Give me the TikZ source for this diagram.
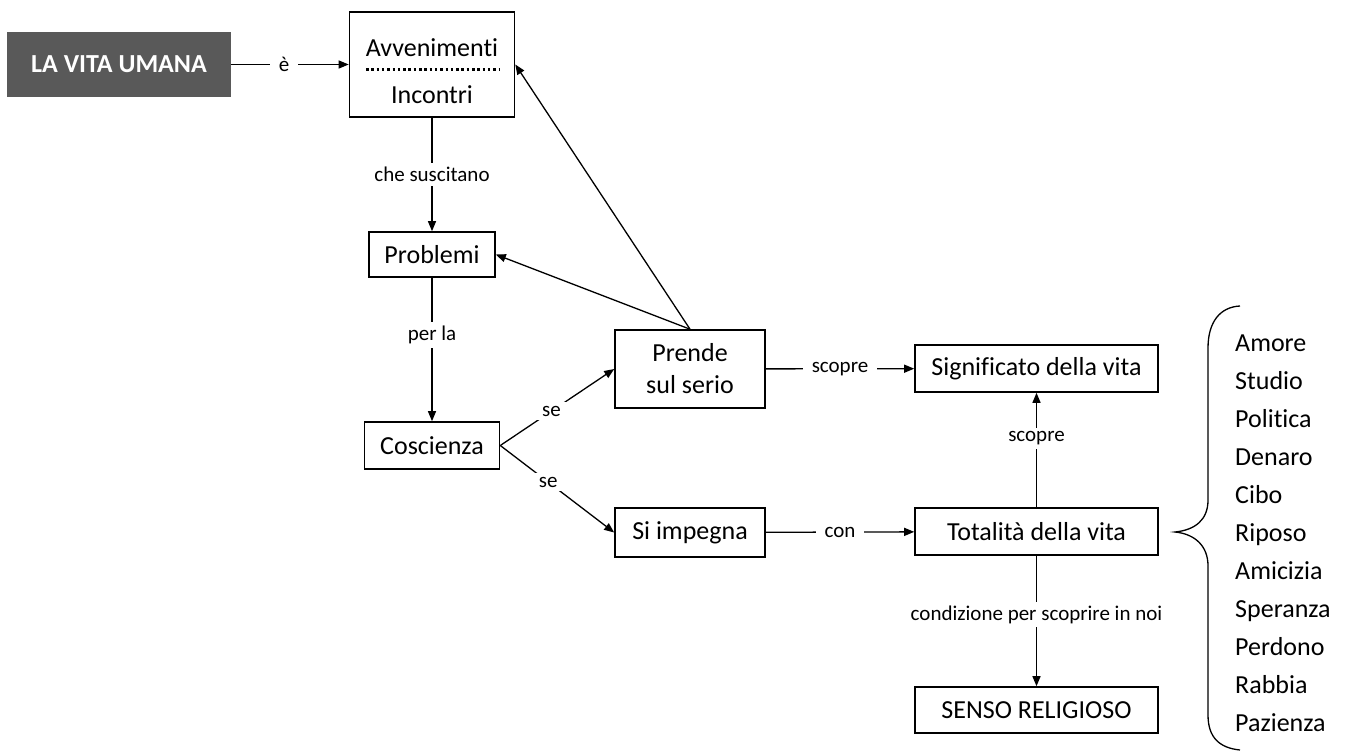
\documentclass[tikz,border=0pt]{standalone}
\usepackage{fontspec}
\setmainfont[Ligatures=NoCommon]{Carlito}
\usetikzlibrary{arrows.meta}
\definecolor{vitagray}{RGB}{89,89,89}

\begin{document}
\begin{tikzpicture}[x=1pt,y=-1pt]
            \tikzstyle{every node}+=[inner sep=0pt]
            \tikzstyle{box}=[draw, line width=1.6pt, align=center, font=\fontsize{26}{32}\selectfont]
            \tikzstyle{lbl}=[fill=white, inner xsep=9pt, inner ysep=4pt, font=\fontsize{21}{25}\selectfont]
            \tikzstyle{link}=[line width=1.3pt, -{Triangle[length=10pt,width=8pt]}]
            \tikzstyle{item}=[anchor=base west, font=\fontsize{26}{32}\selectfont]
            \useasboundingbox (0,0) rectangle (1348,751);
            % concetti
            \node [fill=vitagray, text=white, minimum width=224, minimum height=65, font=\fontsize{26}{32}\selectfont\bfseries] (vita) at (119,64.5) {LA VITA UMANA};
            \node [box, minimum width=165, minimum height=105] (avv) at (432,64.5) {};
            \node [font=\fontsize{26}{32}\selectfont] (avv1) at (432,48) {Avvenimenti};
            \node [font=\fontsize{26}{32}\selectfont] (avv2) at (432,95) {Incontri};
            \draw [line width=3pt, dash pattern=on 2.5pt off 2.8pt] (366,70) -- (500,70);
            \node [box, minimum width=126, minimum height=45] (prob) at (432,254.5) {Problemi};
            \node [box, minimum width=135, minimum height=47] (cosc) at (432,445.5) {Coscienza};
            \node [box, minimum width=150, minimum height=78] (prende) at (690,369) {Prende\\sul serio};
            \node [box, minimum width=150, minimum height=49] (imp) at (690,532.5) {Si impegna};
            \node [box, minimum width=243, minimum height=47] (sig) at (1036.5,368.5) {Significato della vita};
            \node [box, minimum width=243, minimum height=47] (tot) at (1036.5,531.5) {Totalità della vita};
            \node [box, minimum width=243, minimum height=46] (senso) at (1036.5,710) {SENSO RELIGIOSO};
            % collegamenti
            \draw [link] (vita) -- node [lbl, pos=.45] {è} (avv);
            \draw [link] (avv) -- node [lbl] {che suscitano} (prob);
            \draw [link] (prob) -- node [lbl, pos=.4] {per la} (cosc);
            \draw [link] (cosc.east) -- node [lbl, pos=.45] {se} (prende.west);
            \draw [link] (cosc.east) -- node [lbl, pos=.42] {se} (imp.west);
            \draw [link] (prende.north) -- (avv.east);
            \draw [link] (prende.north) -- (prob.east);
            \draw [link] (prende) -- node [lbl] {scopre} (sig);
            \draw [link] (imp) -- node [lbl] {con} (tot);
            \draw [link] (tot) -- node [lbl, pos=.6] {scopre} (sig);
            \draw [link] (tot) -- node [lbl, pos=.45] {condizione per scoprire in noi} (senso);
            % parentesi e ambiti
            \draw [line width=1.3pt] (1240,306) .. controls (1220,307) and (1208,322) .. (1208,348)
                -- (1208,500) .. controls (1208,520) and (1195,530) .. (1175,532)
                .. controls (1195,534) and (1208,546) .. (1208,566)
                -- (1208,715) .. controls (1208,738) and (1220,748) .. (1240,750);
            \foreach \w [count=\i] in {Amore,Studio,Politica,Denaro,Cibo,Riposo,Amicizia,Speranza,Perdono,Rabbia,Pazienza}
                \node [item] (amb\i) at (1235,313+38*\i) {\w};
        \end{tikzpicture}
\end{document}
